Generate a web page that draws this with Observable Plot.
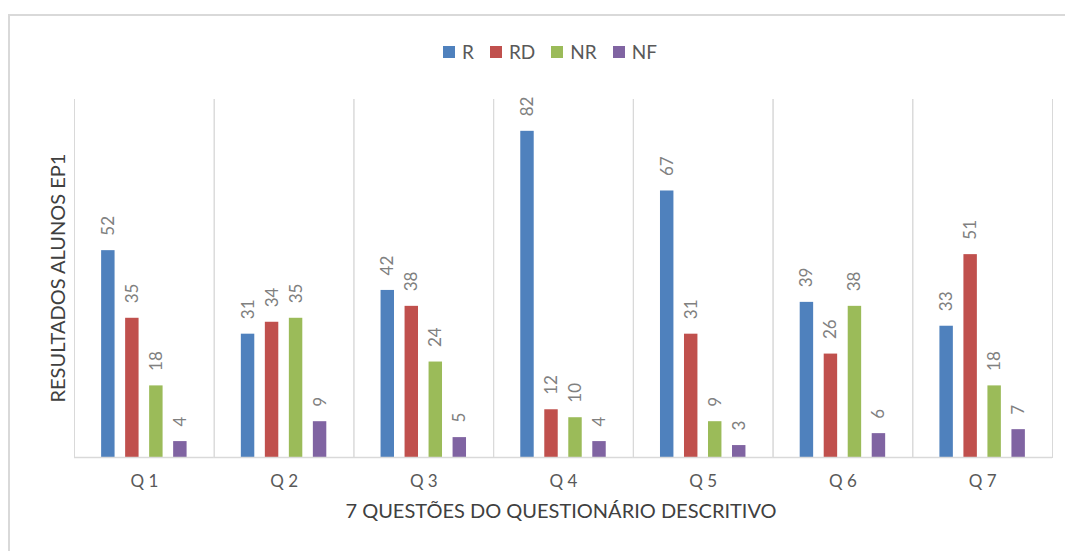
<!DOCTYPE html>
<html>
<head>
<meta charset="utf-8">
<script src="https://cdn.jsdelivr.net/npm/d3@7"></script>
<script src="https://cdn.jsdelivr.net/npm/@observablehq/plot@0.6"></script>
<style>
  html, body { margin: 0; padding: 0; background: #fff; }
  body { width: 1065px; height: 551px; overflow: hidden; position: relative; font-family: Lato, "Open Sans", sans-serif; }
  #frame { position: absolute; left: 8px; top: 14px; width: 1100px; height: 600px;
           border-left: 2px solid #d9d9d9; border-top: 2px solid #d9d9d9; box-sizing: border-box; }
  #chart { position: absolute; left: 0; top: 0; }
  #legend { position: absolute; left: 443px; top: 40px; display: flex; align-items: center;
            font-size: 19px; color: #595959; }
  #legend .item { display: flex; align-items: center; margin-right: 16px; }
  #legend .sw { width: 12px; height: 12px; margin-right: 7px; }
  .title { position: absolute; font-size: 20px; color: #404040; white-space: nowrap; }
  #xtitle { left: 561px; top: 510px; transform: translate(-50%, -50%); }
  #ytitle { left: 57px; top: 278px; transform: translate(-50%, -50%) rotate(-90deg); }
</style>
</head>
<body>
<div id="frame"></div>
<div id="chart"></div>
<div id="legend"></div>
<div class="title" id="xtitle">7 QUESTÕES DO QUESTIONÁRIO DESCRITIVO</div>
<div class="title" id="ytitle">RESULTADOS ALUNOS EP1</div>
<script>
// Questions and answer categories
const questions = ["Q 1", "Q 2", "Q 3", "Q 4", "Q 5", "Q 6", "Q 7"];
const series = ["R", "RD", "NR", "NF"];
const colors = ["#4F81BD", "#C0504D", "#9BBB59", "#8064A2"];

// Student counts per question, one array per category
const valuesR  = [52, 31, 42, 82, 67, 39, 33];
const valuesRD = [35, 34, 38, 12, 31, 26, 51];
const valuesNR = [18, 35, 24, 10,  9, 38, 18];
const valuesNF = [ 4,  9,  5,  4,  3,  6,  7];

const bySeries = {R: valuesR, RD: valuesRD, NR: valuesNR, NF: valuesNF};
const rows = [];
questions.forEach((q, i) => {
  series.forEach(s => rows.push({question: q, series: s, value: bySeries[s][i]}));
});

const grid = "#d9d9d9";

const chart = Plot.plot({
  width: 1065,
  height: 551,
  marginTop: 99,
  marginBottom: 94,
  marginLeft: 74,
  marginRight: 13,
  style: {fontFamily: "Lato, 'Open Sans', sans-serif", background: "transparent"},
  fx: {domain: questions, padding: 0, round: false},
  x: {domain: series, paddingInner: 0.44, paddingOuter: 1.13, round: false, axis: null},
  y: {domain: [0, 90], axis: null},
  color: {domain: series, range: colors},
  marks: [
    Plot.frame({anchor: "left", stroke: grid, strokeOpacity: 1}),
    Plot.frame({anchor: "right", stroke: grid, strokeOpacity: 1}),
    Plot.barY(rows, {fx: "question", x: "series", y: "value", fill: "series"}),
    Plot.ruleY([0], {stroke: grid, strokeWidth: 1.5}),
    Plot.text(rows, {
      fx: "question", x: "series", y: "value", text: d => String(d.value),
      rotate: -90, textAnchor: "start", lineAnchor: "middle", dy: -15,
      fill: "#808080", fontSize: 17
    }),
    Plot.axisFx({anchor: "bottom", tickSize: 0, tickPadding: 17, label: null,
                 fontSize: 17, fill: "#595959"})
  ]
});
document.getElementById("chart").appendChild(chart);

// Legend
const legend = document.getElementById("legend");
series.forEach((s, i) => {
  const item = document.createElement("div");
  item.className = "item";
  const sw = document.createElement("span");
  sw.className = "sw";
  sw.style.background = colors[i];
  const label = document.createElement("span");
  label.textContent = s;
  item.appendChild(sw);
  item.appendChild(label);
  legend.appendChild(item);
});
</script>
</body>
</html>
